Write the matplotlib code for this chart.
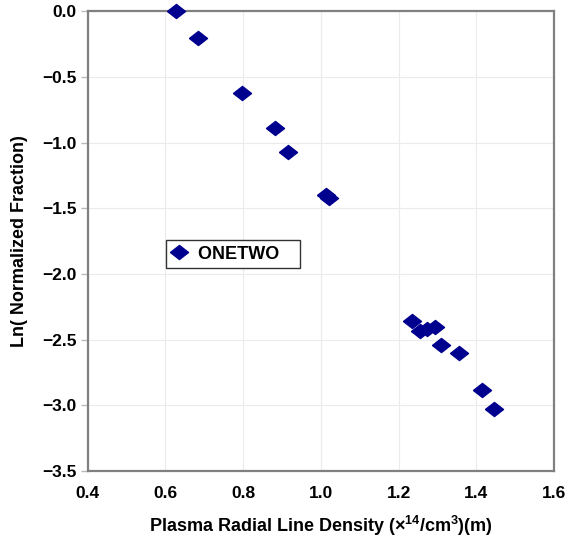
import matplotlib
matplotlib.use("Agg")
import matplotlib.pyplot as plt

fam = 'Liberation Sans'
plt.rcParams['font.family'] = [fam, 'DejaVu Sans']
plt.rcParams['font.weight'] = 'bold'
plt.rcParams['mathtext.fontset'] = 'custom'
plt.rcParams['mathtext.rm'] = fam + ':bold'
plt.rcParams['mathtext.bf'] = fam + ':bold'
plt.rcParams['mathtext.default'] = 'bf'

x_vals = [0.627, 0.685, 0.797, 0.882, 0.915, 1.012, 1.022,
          1.235, 1.256, 1.273, 1.293, 1.309, 1.354, 1.414, 1.446]
y_vals = [0.0, -0.205, -0.62, -0.887, -1.07, -1.40, -1.42,
          -2.36, -2.436, -2.42, -2.40, -2.54, -2.60, -2.88, -3.03]
series_name = 'ONETWO'
x_ticks = [0.4, 0.6, 0.8, 1.0, 1.2, 1.4, 1.6]
y_ticks = [0.0, -0.5, -1.0, -1.5, -2.0, -2.5, -3.0, -3.5]

fig = plt.figure(figsize=(5.65, 5.42), dpi=100)
ax = fig.add_axes([0.155, 0.131, 0.826, 0.848])

diamond = [(-1, 0), (0, 0.78), (1, 0), (0, -0.78), (-1, 0)]
ax.plot(x_vals, y_vals, linestyle='none', marker=diamond, markersize=13,
        color='#00008F', label=series_name + '   ', clip_on=False, zorder=3)

ax.set_xlim(0.4, 1.6)
ax.set_ylim(-3.5, 0.0)
ax.set_xticks(x_ticks)
ax.set_yticks(y_ticks)
ax.set_xticklabels([f'{v:.1f}' for v in x_ticks])
ax.set_yticklabels([f'{v:.1f}'.replace('-', '\u2212') for v in y_ticks])
ax.tick_params(axis='x', labelsize=12.5, length=0, pad=11)
ax.tick_params(axis='y', labelsize=12.5, length=5, color='#BBBBBB', width=1.0, pad=3)
for lab in ax.get_xticklabels() + ax.get_yticklabels():
    lab.set_fontweight('bold')
ax.grid(True, color='#EBEBEB', linewidth=0.8)
ax.set_axisbelow(True)
for s in ax.spines.values():
    s.set_color('#808080')
    s.set_linewidth(1.6)

ax.set_ylabel('Ln( Normalized Fraction)', fontsize=13, fontweight='bold', labelpad=10)
ax.set_xlabel(r'Plasma Radial Line Density ($\times^{14}$/cm$^{3}$)(m)',
              fontsize=13, fontweight='bold', labelpad=9)

leg = ax.legend(loc='upper left', bbox_to_anchor=(0.168, 0.502), fancybox=False,
                framealpha=1, edgecolor='#333333', fontsize=13, handlelength=0.8,
                handletextpad=0.7, borderpad=0.3, borderaxespad=0)
leg.get_frame().set_linewidth(1.0)
for t in leg.get_texts():
    t.set_fontweight('bold')

fig.savefig('out.png', dpi=100)
